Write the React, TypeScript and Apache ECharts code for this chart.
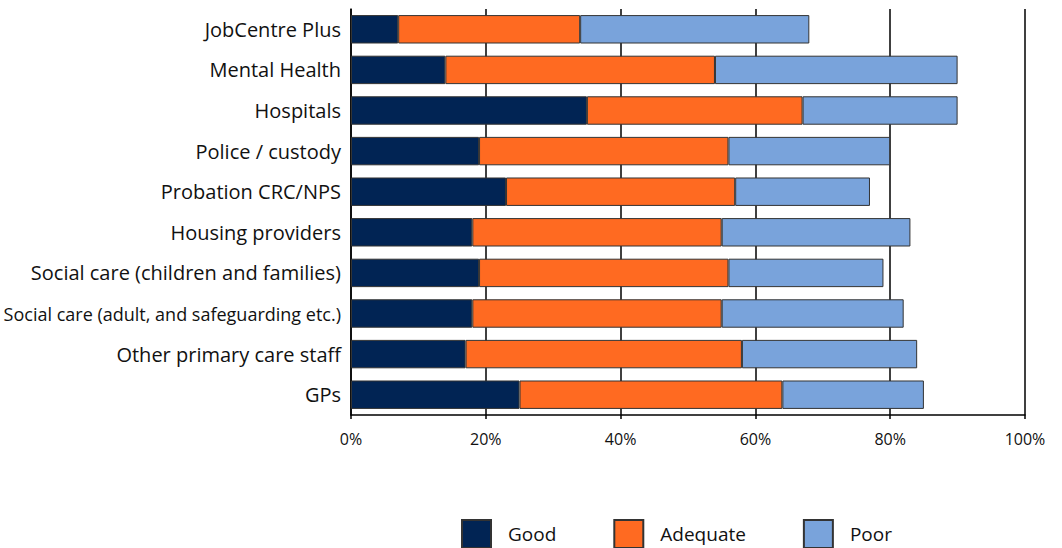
import React, { useEffect, useRef } from "react";
import * as echarts from "echarts";

const categories = [
  "JobCentre Plus",
  "Mental Health",
  "Hospitals",
  "Police / custody",
  "Probation CRC/NPS",
  "Housing providers",
  "Social care (children and families)",
  "Social care (adult, and safeguarding etc.)",
  "Other primary care staff",
  "GPs",
];
const good = [7, 14, 35, 19, 23, 18, 19, 18, 17, 25];
const adequate = [27, 40, 32, 37, 34, 37, 37, 37, 41, 39];
const poor = [34, 36, 23, 24, 20, 28, 23, 27, 26, 21];
const seriesNames = ["Good", "Adequate", "Poor"];
const colors = ["#012454", "#FF6A21", "#79A3DB"];

export default function App() {
  const ref = useRef<HTMLDivElement>(null);
  useEffect(() => {
    if (!ref.current) return;
    const chart = echarts.init(ref.current, undefined, { renderer: "svg" });
    const font = "Open Sans, Lato, sans-serif";
    const data = [good, adequate, poor];
    chart.setOption({
      animation: false,
      textStyle: { fontFamily: font },
      grid: { left: 351, right: 37, top: 9, bottom: 133, containLabel: false },
      legend: {
        left: 461,
        top: 519,
        padding: 0,
        itemWidth: 29,
        itemHeight: 28,
        itemGap: 57,
        icon: "rect",
        textStyle: { fontSize: 19, color: "#111", fontFamily: font, padding: [0, 0, 0, 12] },
        data: seriesNames,
      },
      xAxis: {
        type: "value",
        min: 0,
        max: 100,
        interval: 20,
        axisLabel: {
          formatter: "{value}%",
          fontSize: 16,
          color: "#111",
          margin: 16,
          fontFamily: font,
        },
        axisLine: { show: true, lineStyle: { color: "#000", width: 1.5 } },
        axisTick: { show: true, length: 4, lineStyle: { color: "#000", width: 1.5 } },
        splitLine: { show: true, lineStyle: { color: "#000", width: 1.5 } },
      },
      yAxis: {
        type: "category",
        inverse: true,
        data: categories,
        axisLine: { show: true, lineStyle: { color: "#000", width: 1.5 } },
        axisTick: { show: false },
        axisLabel: {
          fontSize: 20,
          color: "#111",
          margin: 10,
          fontFamily: font,
          formatter: (v: string) => (v.length > 38 ? "{s|" + v + "}" : v),
          rich: {
            s: { fontSize: 18, letterSpacing: -0.9, color: "#111", fontFamily: font },
          },
        },
      },
      series: seriesNames.map((name, i) => ({
        name,
        type: "bar",
        stack: "total",
        barCategoryGap: "30%",
        data: data[i],
        itemStyle: { color: colors[i], borderColor: "#333", borderWidth: 1 },
      })),
    });
    return () => chart.dispose();
  }, []);
  return (
    <div
      ref={ref}
      style={{ position: "fixed", left: 0, top: 0, width: 1062, height: 548, background: "#fff" }}
    />
  );
}
